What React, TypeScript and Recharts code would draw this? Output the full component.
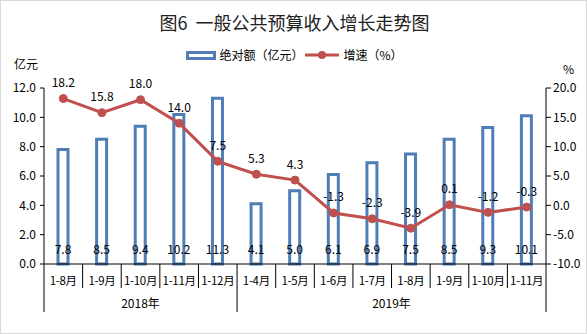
import { Bar, ComposedChart, LabelList, Line, XAxis, YAxis } from 'recharts';

const categories = ['1-8月', '1-9月', '1-10月', '1-11月', '1-12月', '1-4月', '1-5月', '1-6月', '1-7月', '1-8月', '1-9月', '1-10月', '1-11月'];
const years = ['2018年', '2018年', '2018年', '2018年', '2018年', '2019年', '2019年', '2019年', '2019年', '2019年', '2019年', '2019年', '2019年'];
const amounts = [7.8, 8.5, 9.4, 10.2, 11.3, 4.1, 5.0, 6.1, 6.9, 7.5, 8.5, 9.3, 10.1];
const growth = [18.2, 15.8, 18.0, 14.0, 7.5, 5.3, 4.3, -1.3, -2.3, -3.9, 0.1, -1.2, -0.3];
const leftTicks = [0, 2, 4, 6, 8, 10, 12];
const rightTicks = [-10, -5, 0, 5, 10, 15, 20];

const data = categories.map((month, i) => ({
  key: i,
  month,
  year: years[i],
  amount: amounts[i],
  growth: growth[i],
}));

const BLUE = '#4f7db5';
const RED = '#c0504d';
const FONT = '"Noto Sans CJK SC", "Liberation Sans", sans-serif';
const WIDTH = 587;
const HEIGHT = 334;
const LEFT_W = 44;
const RIGHT_W = 41;
const BAND = (WIDTH - LEFT_W - RIGHT_W) / categories.length;

function MonthTick(props: any) {
  const { x, y, index } = props;
  const band = BAND;
  const year = years[index];
  const isFirst = index === 0 || years[index - 1] !== year;
  const isLast = index === years.length - 1 || years[index + 1] !== year;
  const count = years.filter((v) => v === year).length;
  return (
    <g>
      {index === 0 && <line x1={x - band / 2} x2={x - band / 2} y1={y} y2={y + 48} stroke="#000" />}
      <line x1={x + band / 2} x2={x + band / 2} y1={y} y2={y + (isLast ? 48 : 24)} stroke="#000" />
      <text
        x={x}
        y={y + 16}
        textAnchor="middle"
        dominantBaseline="central"
        fontSize={11.5}
        letterSpacing={-0.3}
        fill="#000"
        fontFamily={FONT}
      >
        {categories[index]}
      </text>
      {isFirst && (
        <text
          x={x - band / 2 + (count * band) / 2}
          y={y + 38}
          textAnchor="middle"
          dominantBaseline="central"
          fontSize={12}
          fill="#000"
          fontFamily={FONT}
        >
          {year}
        </text>
      )}
    </g>
  );
}

function BarValue(props: any) {
  const { x, y, width, height, value } = props;
  return (
    <text x={x + width / 2} y={y + height - 16} textAnchor="middle" dominantBaseline="central" fontSize={12} fill="#000" fontFamily={FONT}>
      {Number(value).toFixed(1)}
    </text>
  );
}

function LineValue(props: any) {
  const { x, y, value } = props;
  return (
    <text x={x} y={y - 17} textAnchor="middle" dominantBaseline="central" fontSize={12} fill="#000" fontFamily={FONT}>
      {Number(value).toFixed(1)}
    </text>
  );
}

function LegendBox() {
  return (
    <div
      style={{
        position: 'absolute',
        left: 0,
        top: 46,
        width: WIDTH,
        display: 'flex',
        justifyContent: 'center',
        alignItems: 'center',
        fontFamily: FONT,
        fontSize: 12,
        color: '#000',
        lineHeight: '16px',
      }}
    >
      <span style={{ display: 'inline-block', width: 24, height: 3, border: `3px solid ${BLUE}`, marginRight: 3 }} />
      <span>绝对额（亿元）</span>
      <svg width={34} height={10} style={{ margin: '0 4px 0 2px' }}>
        <line x1={0} x2={34} y1={5} y2={5} stroke={RED} strokeWidth={3} />
        <circle cx={17} cy={5} r={4} fill={RED} />
      </svg>
      <span>增速（%）</span>
    </div>
  );
}

export default function App() {
  return (
    <div
      style={{
        position: 'absolute',
        left: 0,
        top: 0,
        width: WIDTH,
        height: HEIGHT,
        background: '#fff',
        boxSizing: 'border-box',
        border: '1px solid #d9d9d9',
        fontFamily: FONT,
      }}
    >
      <div style={{ position: 'absolute', left: 0, top: 8, width: WIDTH, textAlign: 'center', fontSize: 18, color: '#222', lineHeight: '26px' }}>
        图6&nbsp;&nbsp;一般公共预算收入增长走势图
      </div>
      <LegendBox />
      <div style={{ position: 'absolute', left: 13, top: 54, fontSize: 12, color: '#000' }}>亿元</div>
      <div style={{ position: 'absolute', left: 562, top: 59, fontSize: 12, color: '#000' }}>%</div>
      <div style={{ position: 'absolute', left: -1, top: -1 }}>
        <ComposedChart width={WIDTH} height={HEIGHT} data={data} margin={{ top: 88, right: 0, bottom: 0, left: 0 }}>
          <XAxis
            dataKey="key"
            tick={<MonthTick />}
            tickLine={false}
            tickSize={0}
            tickMargin={0}
            height={70}
            interval={0}
            axisLine={{ stroke: '#000' }}
          />
          <YAxis
            yAxisId="left"
            width={LEFT_W}
            domain={[0, 12]}
            ticks={leftTicks}
            tickFormatter={(v: number) => v.toFixed(1)}
            tick={{ fontSize: 12, fill: '#000', fontFamily: FONT }}
            tickSize={4}
            tickMargin={4}
            axisLine={{ stroke: '#000' }}
            tickLine={{ stroke: '#000' }}
          />
          <YAxis
            yAxisId="right"
            orientation="right"
            width={RIGHT_W}
            domain={[-10, 20]}
            ticks={rightTicks}
            tickFormatter={(v: number) => v.toFixed(1)}
            tick={{ fontSize: 12, fill: '#000', fontFamily: FONT }}
            tickSize={5}
            tickMargin={2}
            axisLine={{ stroke: '#000' }}
            tickLine={{ stroke: '#000' }}
          />
          <Bar
            yAxisId="left"
            dataKey="amount"
            name="绝对额（亿元）"
            fill="#fff"
            stroke={BLUE}
            strokeWidth={3}
            barSize={10}
            isAnimationActive={false}
          >
            <LabelList dataKey="amount" content={<BarValue />} />
          </Bar>
          <Line
            yAxisId="right"
            dataKey="growth"
            name="增速（%）"
            stroke={RED}
            strokeWidth={3}
            dot={{ r: 4, fill: RED, stroke: RED, strokeWidth: 1 }}
            activeDot={false}
            isAnimationActive={false}
          >
            <LabelList dataKey="growth" content={<LineValue />} />
          </Line>
        </ComposedChart>
      </div>
    </div>
  );
}
